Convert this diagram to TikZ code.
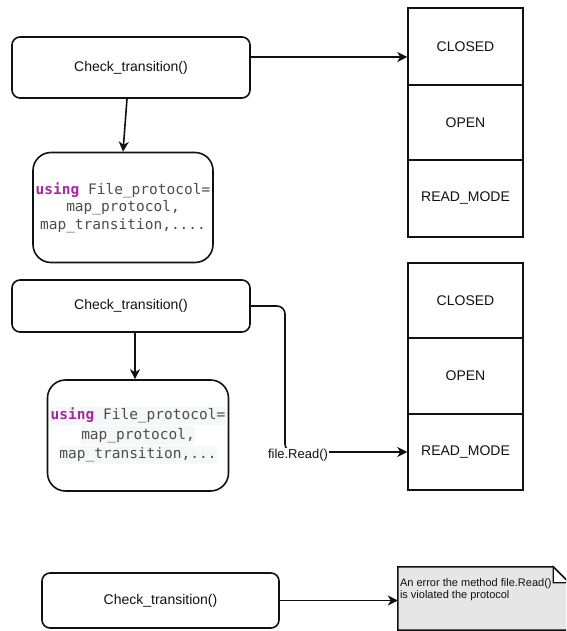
\documentclass[tikz,border=0pt]{standalone}
\usepackage{fontspec}
\setmainfont{Liberation Sans}
\setmonofont{DejaVu Sans Mono}
\usetikzlibrary{arrows.meta,calc}
\definecolor{kw}{HTML}{A626A4}
\definecolor{code}{HTML}{4D4D4D}
\definecolor{codebg}{HTML}{F5F7F9}
\definecolor{notefill}{HTML}{E6E6E6}
\definecolor{ink}{HTML}{111111}
\setlength{\fboxsep}{0.5pt}
\begin{document}
\begin{tikzpicture}[x=1pt,y=-1pt,
 box/.style={draw=ink, line width=1.6pt, rounded corners=8pt, minimum width=238pt, inner sep=0pt, font=\fontsize{14}{16}\selectfont, text=ink},
 codebox/.style={draw=ink, line width=1.6pt, rounded corners=18pt, minimum width=180pt, minimum height=110pt, inner sep=0pt, align=center, font=\ttfamily\fontsize{14.5}{17.5}\selectfont, text=code},
 statebox/.style={draw=ink, line width=1.5pt, minimum width=115pt, minimum height=76pt, inner sep=0pt, font=\fontsize{14}{16}\selectfont, text=ink},
 arr/.style={draw=ink, line width=1.6pt, -{Stealth[length=10pt,width=10pt,inset=3pt]}},
 lbl/.style={fill=white, inner sep=1pt, font=\fontsize{13}{15}\selectfont, text=ink},
]
\clip (0,0) rectangle (566,631);
\fill[white] (0,0) rectangle (566,631);

% top group
\node[box, minimum height=61pt] (b1) at (131,67.5) {Check\_transition()};
\node[codebox] (b2) at (123,207.5) {\textbf{\color{kw}using} File\_protocol=\\map\_protocol,\\map\_transition,....};
\node[statebox, minimum height=77pt] (s1a) at (465.5,46.5) {CLOSED};
\node[statebox, minimum height=75pt] (s1b) at (465.5,122.5) {OPEN};
\node[statebox, minimum height=77pt] (s1c) at (465.5,198.5) {READ\_MODE};

\draw[arr] ([xshift=-4pt]b1.south) -- (b2.north);
\draw[arr] ([yshift=10.5pt]b1.east) -- ([yshift=10.5pt]b1.east -| s1a.west);

% middle group
\node[box, minimum height=52pt] (b3) at (131,306) {Check\_transition()};
\node[codebox, minimum width=181pt, minimum height=111pt] (b4) at (138,435.5) {\colorbox{codebg}{\strut\textbf{\color{kw}using} File\_protocol=}\\\colorbox{codebg}{\strut map\_protocol,}\\\colorbox{codebg}{\strut map\_transition,...}};
\node[statebox, minimum height=75pt] (s2a) at (465.5,300.5) {CLOSED};
\node[statebox] (s2b) at (465.5,376) {OPEN};
\node[statebox] (s2c) at (465.5,452) {READ\_MODE};

\draw[arr] ([xshift=4pt]b3.south) -- ([xshift=4pt]b3.south |- b4.north);
\coordinate (bend) at (285,452);
\draw[arr, rounded corners=8pt] (b3.east) -| (bend) -- (s2c.west);
\node[lbl] (rd) at (298,455) {file.Read()};

% bottom group
\node[box, minimum width=237pt, minimum height=55pt] (b5) at (160.5,600.5) {Check\_transition()};
\node[minimum width=171pt, minimum height=63pt, inner sep=0pt] (note) at (483.5,598.5) {};
\filldraw[fill=notefill, draw=ink, line width=1.6pt] (note.north west) -- ([xshift=-16pt]note.north east) -- ([yshift=-16pt]note.north east) -- (note.south east) -- (note.south west) -- cycle;
\filldraw[fill=white, draw=ink, line width=1.3pt] ([xshift=-16pt]note.north east) -- ([xshift=-16pt,yshift=-16pt]note.north east) -- ([yshift=-16pt]note.north east) -- cycle;
\node[anchor=north west, align=left, inner sep=0pt, font=\fontsize{11}{12}\selectfont, text=ink] (nt) at ([xshift=2pt,yshift=-12pt]note.north west) {An error the method file.Read()\\is violated the protocol};
\draw[arr] (b5.east) -- (b5.east -| note.west);
\end{tikzpicture}
\end{document}
